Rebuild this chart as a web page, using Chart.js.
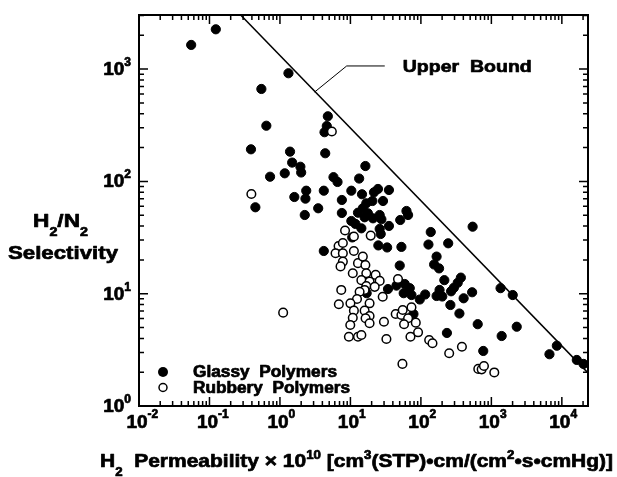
<!DOCTYPE html>
<html>
<head>
<meta charset="utf-8">
<script src="https://cdn.jsdelivr.net/npm/chart.js@4/dist/chart.umd.min.js"></script>
<style>
  html, body { margin: 0; padding: 0; background: #fff; }
  #wrap { width: 617px; height: 477px; }
</style>
</head>
<body>
<div id="wrap"><canvas id="chart" width="617" height="477"></canvas></div>
<script>
// H2 permeability (Barrer) and H2/N2 selectivity
const glassyPerm = [0.055, 0.123, 1.32, 0.545, 0.641, 0.388, 4.78, 4.62, 4.29, 1.39,
    4.39, 1.49, 1.95, 2.0, 1.17, 0.724, 0.448, 1.60, 2.36, 2.30,
    4.19, 3.49, 2.25, 4.19, 5.75, 6.56, 13.3, 16.3, 35.2, 10.3,
    14.6, 21.6, 24.6, 29.0, 20.5, 16.8, 7.56, 7.56, 12.8, 15.0,
    17.7, 15.9, 26.0, 27.5, 62.4, 65.8, 50.9, 10.3, 11.8, 14.3,
    35.2, 26.0, 26.9, 10.6, 24.9, 33.2, 52.9, 138, 128, 244,
    542, 50.1, 167, 154, 181, 215, 369, 333, 294, 268,
    533, 404, 184, 167, 201, 34.1, 45.0, 59.0, 69.5, 57.0,
    73.5, 96.4, 115, 262, 352, 640, 234, 1350, 1400, 78.4,
    767, 2010, 2290, 8490, 6670, 16300, 20300, 17.0, 20.9];
const glassySel = [1640, 2260, 918, 665, 313, 193, 380, 311, 274, 184,
    178, 147, 135, 120, 118, 110, 58.8, 72.6, 82.6, 70.2,
    82.6, 57.6, 50.2, 24.0, 109, 98.8, 106, 137, 83.8, 82.6,
    76.8, 80.0, 85.6, 66.9, 66.9, 63.8, 68.3, 52.3, 52.6, 57.6,
    52.0, 47.9, 50.2, 46.0, 54.5, 50.2, 45.3, 44.4, 41.8, 38.2,
    40.1, 37.7, 34.0, 31.7, 26.9, 25.8, 26.1, 35.4, 27.4, 28.1,
    39.5, 17.8, 21.4, 18.2, 16.8, 13.2, 13.9, 12.5, 11.3, 10.5,
    10.3, 9.10, 10.8, 9.54, 9.44, 11.0, 11.8, 12.2, 11.2, 10.1,
    9.73, 8.88, 9.84, 7.93, 6.66, 5.35, 4.47, 11.2, 4.20, 6.60,
    3.09, 9.73, 5.08, 3.44, 2.89, 2.57, 2.37, 10.1, 46.9];

const rubberyPerm = [5.45, 0.393, 1.11, 8.39, 11.2, 19.4, 6.79, 7.81, 6.15, 7.81,
    11.2, 7.81, 7.24, 12.8, 15.0, 16.3, 10.8, 16.8, 22.8, 26.0,
    14.3, 18.7, 16.8, 22.1, 15.9, 13.5, 12.4, 10.0, 18.7, 28.7,
    7.41, 6.85, 11.2, 15.9, 18.7, 10.8, 16.4, 9.95, 18.7, 29.9,
    9.51, 12.8, 14.3, 32.4, 47.3, 43.9, 52.9, 55.2, 73.5, 65.8,
    57.7, 84.6, 91.2, 71.1, 131, 146, 252, 382, 54.7, 652,
    728, 785, 1100];
const rubberySel = [278, 77.2, 6.78, 36.5, 32.3, 32.9, 26.6, 28.3, 22.9, 22.9,
    24.0, 19.3, 17.5, 18.7, 21.4, 18.0, 15.2, 15.2, 14.7, 13.0,
    13.2, 12.8, 11.7, 11.5, 10.8, 10.4, 8.97, 8.21, 8.21, 9.40,
    10.8, 8.05, 7.06, 7.06, 6.33, 6.11, 6.04, 5.26, 5.45, 5.63,
    4.14, 4.14, 4.29, 3.95, 13.5, 6.60, 6.46, 7.16, 7.57, 6.04,
    5.34, 5.52, 4.53, 4.14, 3.87, 3.62, 2.95, 3.37, 2.37, 2.14,
    2.12, 2.27, 1.99];

// upper bound line and its label leader
const boundPerm = [0.277, 23500];
const boundSel = [3030, 1.97];
const leaderPerm = [3.11, 8.85, 30.7];
const leaderSel = [625, 1066, 1066];
const labelPerm = 55.3;
const labelSel = 1066;

const xRange = [0.01, 23500];
const yRange = [1, 3030];
const xTickExps = [-2, -1, 0, 1, 2, 3, 4];
const yTickExps = [0, 1, 2, 3];

const FONT = '"Liberation Sans", Arial, Helvetica, sans-serif';

function pairs(xs, ys) {
    return xs.map((x, i) => ({ x: x, y: ys[i] }));
}

// text pieces (normal / sub / sup), left aligned, stretched to a width if given
function drawRich(ctx, segs, x, y, size, width) {
    ctx.save();
    ctx.textAlign = 'left';
    ctx.textBaseline = 'alphabetic';
    ctx.fillStyle = '#000';
    ctx.strokeStyle = '#000';
    ctx.lineWidth = 0.7;
    ctx.lineJoin = 'round';
    let natural = 0;
    const widths = segs.map(sg => {
        ctx.font = `bold ${Math.round(size * (sg.s || 1))}px ${FONT}`;
        const w = ctx.measureText(sg.t).width;
        natural += w;
        return w;
    });
    const sx = width ? width / natural : 1;
    ctx.translate(x, y);
    ctx.scale(sx, 1);
    let cx = 0;
    segs.forEach((sg, i) => {
        ctx.font = `bold ${Math.round(size * (sg.s || 1))}px ${FONT}`;
        ctx.fillText(sg.t, cx, sg.dy || 0);
        ctx.strokeText(sg.t, cx, sg.dy || 0);
        cx += widths[i];
    });
    ctx.restore();
    return x + natural * sx;
}

function expText(e) {
    return e < 0 ? '-' + Math.abs(e) : String(e);
}

const framePlugin = {
    id: 'frame',
    afterDraw(chart) {
        const ctx = chart.ctx;
        const area = chart.chartArea;
        const xs = chart.scales.x;
        const ys = chart.scales.y;
        ctx.save();
        ctx.strokeStyle = '#000';

        // ticks on all four sides, pointing in
        ctx.lineWidth = 1.5;
        ctx.beginPath();
        xTickExps.forEach(e => {
            for (let m = 1; m <= 9; m++) {
                const v = m * Math.pow(10, e);
                if (v < xRange[0] || v > xRange[1]) continue;
                const px = xs.getPixelForValue(v);
                const len = m === 1 ? 9 : 5;
                ctx.moveTo(px, area.bottom); ctx.lineTo(px, area.bottom - len);
                ctx.moveTo(px, area.top); ctx.lineTo(px, area.top + len);
            }
        });
        yTickExps.forEach(e => {
            for (let m = 1; m <= 9; m++) {
                const v = m * Math.pow(10, e);
                if (v < yRange[0] || v > yRange[1]) continue;
                const py = ys.getPixelForValue(v);
                const len = m === 1 ? 9 : 5;
                ctx.moveTo(area.left, py); ctx.lineTo(area.left + len, py);
                ctx.moveTo(area.right, py); ctx.lineTo(area.right - len, py);
            }
        });
        ctx.stroke();

        ctx.lineWidth = 2;
        ctx.strokeRect(area.left, area.top, area.right - area.left, area.bottom - area.top);

        // tick labels 10^n
        ctx.font = `bold 19px ${FONT}`;
        const w10 = ctx.measureText('10').width;
        xTickExps.forEach(e => {
            const px = xs.getPixelForValue(Math.pow(10, e));
            drawRich(ctx, [{ t: '10' }, { t: expText(e), s: 0.63, dy: -10 }],
                px - w10 / 2 - 2, area.bottom + 22, 19);
        });
        yTickExps.forEach(e => {
            const py = ys.getPixelForValue(Math.pow(10, e));
            ctx.font = `bold 12px ${FONT}`;
            const ws = ctx.measureText(expText(e)).width;
            drawRich(ctx, [{ t: '10' }, { t: expText(e), s: 0.63, dy: -9 }],
                area.left - 8 - ws - w10, py + 6, 19);
        });

        // axis titles
        drawRich(ctx, [{ t: 'H' }, { t: '2', s: 0.65, dy: 9 }, { t: '  Permeability \u00d7 10' },
            { t: '10', s: 0.63, dy: -8 }, { t: ' [cm' }, { t: '3', s: 0.63, dy: -8 },
            { t: '(STP)\u2022cm/(cm' }, { t: '2', s: 0.63, dy: -8 }, { t: '\u2022s\u2022cmHg)]' }],
            100, 467, 19, 513);
        drawRich(ctx, [{ t: 'H' }, { t: '2', s: 0.65, dy: 9 }, { t: '/N' }, { t: '2', s: 0.65, dy: 9 }],
            33, 227, 19, 55);
        drawRich(ctx, [{ t: 'Selectivity' }], 8, 259, 19, 110);

        // upper bound label
        drawRich(ctx, [{ t: 'Upper  Bound' }], xs.getPixelForValue(labelPerm),
            ys.getPixelForValue(labelSel) + 6, 17, 129);

        // legend
        const lx = area.left + 24;
        ctx.fillStyle = '#000';
        ctx.beginPath();
        ctx.arc(lx, area.bottom - 34, 5, 0, Math.PI * 2);
        ctx.fill();
        ctx.lineWidth = 1.5;
        ctx.beginPath();
        ctx.arc(lx, area.bottom - 18.5, 4, 0, Math.PI * 2);
        ctx.stroke();
        drawRich(ctx, [{ t: 'Glassy  Polymers' }], lx + 30, area.bottom - 29, 16, 144);
        drawRich(ctx, [{ t: 'Rubbery  Polymers' }], lx + 30, area.bottom - 13.5, 16, 157);
        ctx.restore();
    }
};

const chart = new Chart(document.getElementById('chart'), {
    type: 'scatter',
    data: {
        datasets: [
            {
                label: 'Rubbery Polymers',
                data: pairs(rubberyPerm, rubberySel),
                backgroundColor: '#fff',
                borderColor: '#000',
                borderWidth: 1.5,
                pointRadius: 4.3,
                clip: false
            },
            {
                label: 'Glassy Polymers',
                data: pairs(glassyPerm, glassySel),
                backgroundColor: '#000',
                borderColor: '#000',
                borderWidth: 1,
                pointRadius: 4.6,
                clip: false
            },
            {
                label: 'Upper Bound',
                data: pairs(boundPerm, boundSel),
                showLine: true,
                borderColor: '#000',
                borderWidth: 1.5,
                pointRadius: 0
            },
            {
                label: 'leader',
                data: pairs(leaderPerm, leaderSel),
                showLine: true,
                borderColor: '#000',
                borderWidth: 1,
                pointRadius: 0
            }
        ]
    },
    options: {
        responsive: false,
        animation: false,
        layout: { padding: { left: 139, right: 29, top: 15, bottom: 71 } },
        plugins: {
            legend: { display: false },
            tooltip: { enabled: false }
        },
        scales: {
            x: { type: 'logarithmic', display: false, min: xRange[0], max: xRange[1] },
            y: { type: 'logarithmic', display: false, min: yRange[0], max: yRange[1] }
        }
    },
    plugins: [framePlugin]
});
</script>
</body>
</html>
